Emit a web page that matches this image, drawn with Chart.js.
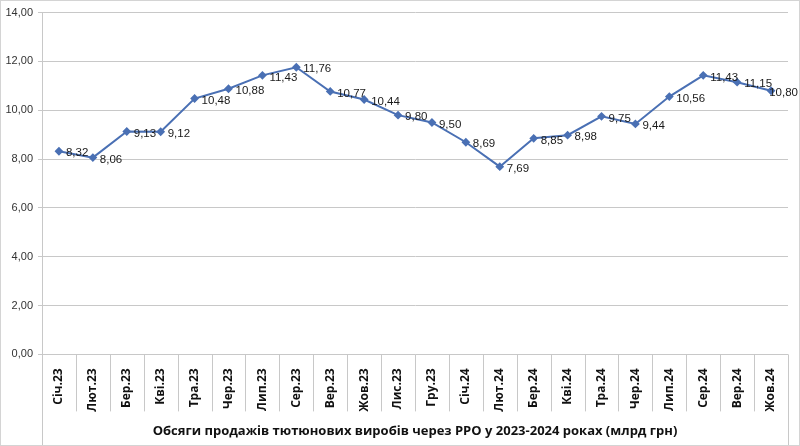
<!DOCTYPE html>
<html lang="uk">
<head>
<meta charset="UTF-8">
<title>Обсяги продажів</title>
<script src="https://cdn.jsdelivr.net/npm/chart.js@4.4.1/dist/chart.umd.min.js"></script>
<style>
  body { margin: 0; background: #fff; }
  #wrap { width: 800px; height: 446px; box-sizing: border-box; border: 1px solid #d4d4d4; }
</style>
</head>
<body>
<div id="wrap"><canvas id="chart" width="798" height="444"></canvas></div>
<script>
const months = ['Січ.23', 'Лют.23', 'Бер.23', 'Кві.23', 'Тра.23', 'Чер.23', 'Лип.23', 'Сер.23', 'Вер.23', 'Жов.23', 'Лис.23', 'Гру.23',
                'Січ.24', 'Лют.24', 'Бер.24', 'Кві.24', 'Тра.24', 'Чер.24', 'Лип.24', 'Сер.24', 'Вер.24', 'Жов.24'];
const sales = [8.32, 8.06, 9.13, 9.12, 10.48, 10.88, 11.43, 11.76, 10.77, 10.44, 9.80, 9.50,
               8.69, 7.69, 8.85, 8.98, 9.75, 9.44, 10.56, 11.43, 11.15, 10.80];
const yTicks = [0, 2, 4, 6, 8, 10, 12, 14];
const chartTitle = 'Обсяги продажів тютюнових виробів через РРО у 2023-2024 роках (млрд грн)';

const fmt = v => v.toFixed(2).replace('.', ',');

// value labels right of each point + category dividers under the axis
const extras = {
  id: 'extras',
  afterDatasetsDraw(chart) {
    const ctx = chart.ctx;
    const meta = chart.getDatasetMeta(0);
    ctx.save();
    ctx.font = '11.5px "Liberation Sans", Arial, sans-serif';
    ctx.fillStyle = '#1a1a1a';
    ctx.textBaseline = 'middle';
    meta.data.forEach((pt, i) => {
      const txt = fmt(sales[i]);
      const w = ctx.measureText(txt).width;
      const x = Math.min(pt.x + 7, chart.width - w - 1);
      ctx.fillText(txt, x, pt.y + 2);
    });
    ctx.restore();
  },
  afterDraw(chart) {
    const ctx = chart.ctx;
    const xs = chart.scales.x;
    const area = chart.chartArea;
    const step = (xs.right - xs.left) / months.length;
    ctx.save();
    ctx.strokeStyle = '#c8c8c8';
    ctx.lineWidth = 1;
    for (let i = 0; i <= months.length; i++) {
      const x = Math.round(xs.left + i * step) + 0.5;
      const end = (i === 0 || i === months.length) ? chart.height : area.bottom + 57;
      ctx.beginPath();
      ctx.moveTo(x, area.bottom);
      ctx.lineTo(x, end);
      ctx.stroke();
    }
    ctx.restore();
  }
};

new Chart(document.getElementById('chart'), {
  type: 'line',
  data: {
    labels: months,
    datasets: [{
      data: sales,
      borderColor: '#4a70b4',
      backgroundColor: '#4a70b4',
      borderWidth: 2,
      pointStyle: 'rectRot',
      pointRadius: 3,
      pointHoverRadius: 3,
      tension: 0
    }]
  },
  options: {
    responsive: false,
    animation: false,
    layout: { padding: { top: 7, right: 11, left: 0, bottom: 2 } },
    plugins: {
      legend: { display: false },
      tooltip: { enabled: false },
      title: {
        display: true,
        position: 'bottom',
        fullSize: false,
        text: chartTitle,
        color: '#111',
        font: { family: '"Open Sans", sans-serif', size: 13, weight: 'bold' },
        padding: { top: 6, bottom: 4 }
      }
    },
    scales: {
      x: {
        offset: true,
        grid: { display: false },
        border: { display: false },
        ticks: {
          minRotation: 90,
          maxRotation: 90,
          padding: 6,
          color: '#111',
          font: { family: '"Open Sans", sans-serif', size: 12, weight: 'bold' }
        },
        afterFit(s) { s.height = 63; }
      },
      y: {
        min: 0,
        max: 14,
        afterBuildTicks(s) { s.ticks = yTicks.map(v => ({ value: v })); },
        grid: { color: '#c8c8c8', tickLength: 4 },
        border: { color: '#c8c8c8' },
        ticks: {
          padding: 5,
          color: '#333',
          font: { family: '"Liberation Sans", Arial, sans-serif', size: 11 },
          callback: v => fmt(v)
        },
        afterFit(s) { s.width = 41; }
      }
    }
  },
  plugins: [extras]
});
</script>
</body>
</html>
